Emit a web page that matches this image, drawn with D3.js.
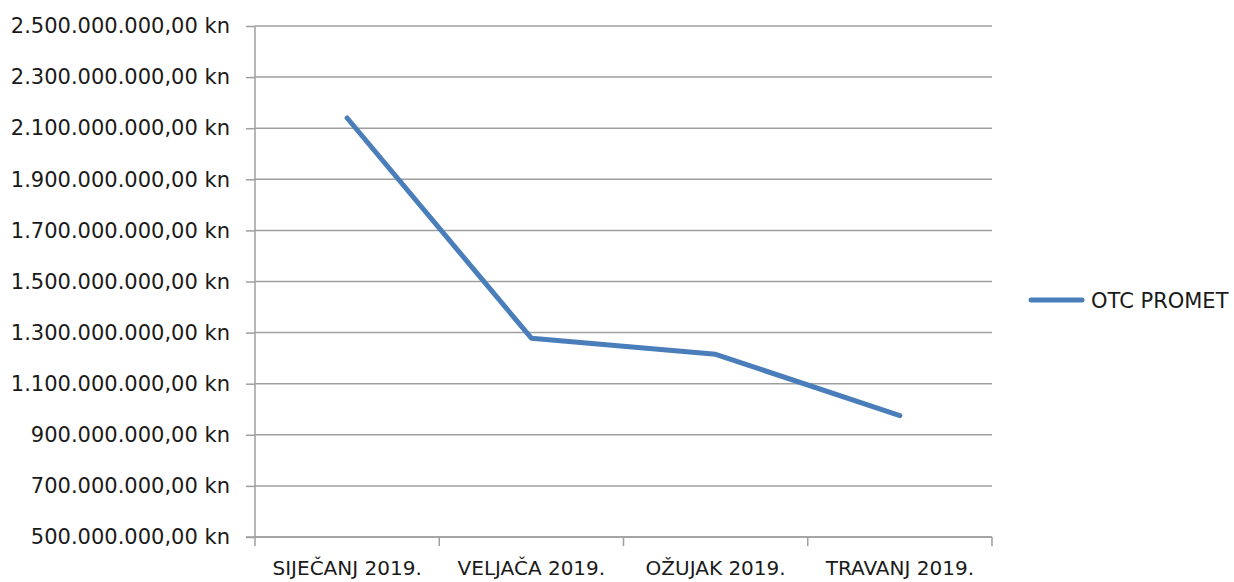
<!DOCTYPE html>
<html>
<head>
<meta charset="utf-8">
<script src="https://cdn.jsdelivr.net/npm/d3@7.9.0/dist/d3.min.js"></script>
<style>
  body { margin: 0; background: #fff; }
  svg text { font-family: "DejaVu Sans", sans-serif; fill: #1a1a1a; }
</style>
</head>
<body>
<svg id="chart" width="1234" height="582"></svg>
<script>
// data
const months = ['SIJEČANJ 2019.', 'VELJAČA 2019.', 'OŽUJAK 2019.', 'TRAVANJ 2019.'];
const otcPromet = [2140000000, 1278000000, 1215000000, 975000000];
const yTicks = [500e6, 700e6, 900e6, 1100e6, 1300e6, 1500e6, 1700e6, 1900e6, 2100e6, 2300e6, 2500e6];
const seriesName = 'OTC PROMET';

const svg = d3.select('#chart');
const plotLeft = 255, plotRight = 992, plotTop = 26, plotBottom = 537;
const fontSize = 21;

const x = d3.scaleBand().domain(months).range([plotLeft, plotRight]);
const y = d3.scaleLinear().domain([500e6, 2500e6]).range([plotBottom, plotTop]);

const fmt = v => d3.format(',.2f')(v).replace(/,/g, 'X').replace('.', ',').replace(/X/g, '.') + ' kn';

// gridlines
svg.append('g')
  .selectAll('line')
  .data(yTicks)
  .join('line')
  .attr('x1', plotLeft).attr('x2', plotRight)
  .attr('y1', d => y(d)).attr('y2', d => y(d))
  .attr('stroke', '#9f9f9f')
  .attr('stroke-width', 1.5);

// y axis
const yAxis = svg.append('g')
  .attr('transform', `translate(${plotLeft},0)`)
  .call(d3.axisLeft(y).tickValues(yTicks).tickFormat(fmt).tickSize(9).tickPadding(16));
yAxis.select('.domain').attr('stroke', '#9f9f9f').attr('stroke-width', 1.5).attr('d', `M0,${plotTop}V${plotBottom}`);
yAxis.selectAll('.tick line').attr('stroke', '#9f9f9f').attr('stroke-width', 1.5);
yAxis.selectAll('text').attr('font-size', fontSize).attr('font-family', '"DejaVu Sans", sans-serif').attr('fill', '#1a1a1a');

// x axis
const xAxis = svg.append('g')
  .attr('transform', `translate(0,${plotBottom})`)
  .call(d3.axisBottom(x).tickSize(0));
xAxis.select('.domain').attr('stroke', '#9f9f9f').attr('stroke-width', 1.5).attr('d', `M${plotLeft - 9},0H${plotRight}`);
xAxis.selectAll('text')
  .attr('y', 38).attr('dy', 0)
  .attr('font-size', 20).attr('font-family', '"DejaVu Sans", sans-serif').attr('fill', '#1a1a1a');

// category boundary ticks
const bounds = months.map(m => x(m)).concat([x(months[months.length - 1]) + x.bandwidth()]);
svg.append('g')
  .selectAll('line')
  .data(bounds)
  .join('line')
  .attr('x1', d => d).attr('x2', d => d)
  .attr('y1', plotBottom).attr('y2', plotBottom + 9)
  .attr('stroke', '#9f9f9f')
  .attr('stroke-width', 1.5);

// series line
const line = d3.line()
  .x((d, i) => x(months[i]) + x.bandwidth() / 2)
  .y(d => y(d));

svg.append('path')
  .datum(otcPromet)
  .attr('d', line)
  .attr('fill', 'none')
  .attr('stroke', '#4a7ebb')
  .attr('stroke-width', 5)
  .attr('stroke-linecap', 'round')
  .attr('stroke-linejoin', 'round');

// legend
const legend = svg.append('g').attr('transform', 'translate(1031,300)');
legend.append('line')
  .attr('x1', 0).attr('x2', 51)
  .attr('stroke', '#4a7ebb')
  .attr('stroke-width', 5)
  .attr('stroke-linecap', 'round');
legend.append('text')
  .attr('x', 60).attr('y', 7.5)
  .attr('font-size', fontSize)
  .text(seriesName);
</script>
</body>
</html>
